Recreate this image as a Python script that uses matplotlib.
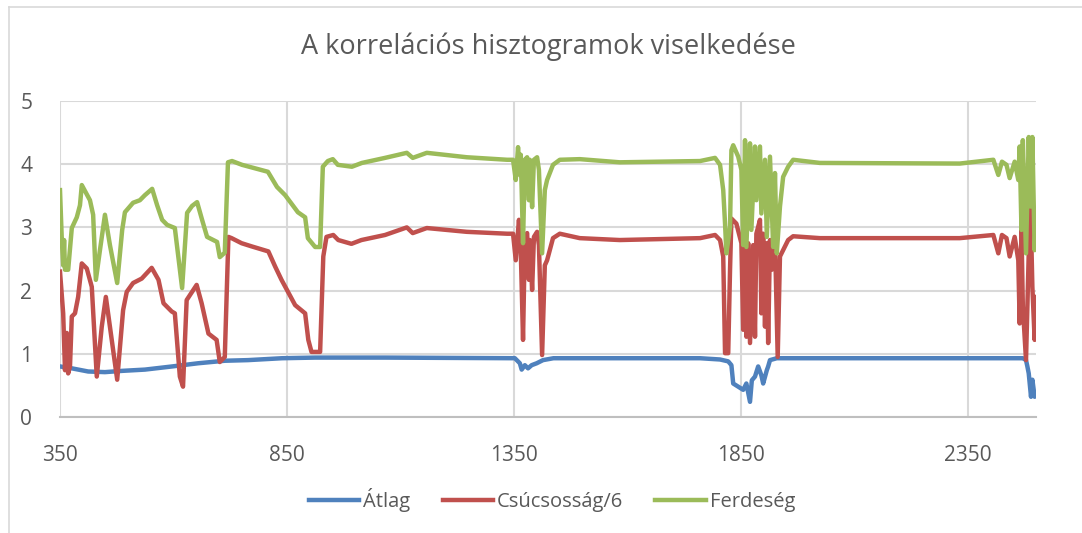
import matplotlib
matplotlib.use("Agg")
import matplotlib.pyplot as plt
from matplotlib.lines import Line2D

# --- DATA ---
title = "A korrelációs hisztogramok viselkedése"
labels = ["Átlag", "Csúcsosság/6", "Ferdeség"]
x_ticks = [350, 850, 1350, 1850, 2350]
y_ticks = [0, 1, 2, 3, 4, 5]

atlag_x = [350, 376, 412, 449, 487, 537, 597, 654, 713, 764,
           839, 912, 1066, 1352, 1363, 1367, 1374, 1381, 1389, 1400,
           1414, 1437, 1760, 1804, 1822, 1829, 1833, 1844, 1855, 1862,
           1870, 1874, 1881, 1888, 1895, 1899, 1907, 1910, 1914, 1929,
           2024, 2471, 2478, 2481, 2484, 2489, 2492, 2497, 2500]
atlag_y = [0.80, 0.77, 0.72, 0.71, 0.73, 0.75, 0.80, 0.85, 0.89, 0.90,
           0.93, 0.94, 0.94, 0.93, 0.85, 0.75, 0.82, 0.77, 0.82, 0.85,
           0.90, 0.93, 0.93, 0.91, 0.88, 0.82, 0.53, 0.48, 0.43, 0.53,
           0.24, 0.58, 0.64, 0.80, 0.66, 0.53, 0.74, 0.80, 0.90, 0.93,
           0.93, 0.93, 0.90, 0.80, 0.69, 0.32, 0.59, 0.32, 0.37]

csucs_x = [350, 357, 361, 365, 368, 372, 376, 383, 390, 398,
           409, 420, 431, 442, 451, 460, 476, 489, 497, 511,
           530, 552, 567, 578, 596, 603, 614, 621, 629, 651,
           662, 677, 695, 702, 713, 721, 728, 750, 772, 809,
           824, 838, 868, 890, 897, 904, 923, 930, 937, 952,
           963, 992, 1014, 1066, 1114, 1127, 1158, 1246, 1335, 1348,
           1354, 1361, 1365, 1370, 1374, 1379, 1383, 1385, 1390, 1394,
           1401, 1405, 1412, 1418, 1423, 1436, 1451, 1495, 1583, 1760,
           1793, 1804, 1811, 1815, 1822, 1826, 1829, 1840, 1851, 1855,
           1859, 1862, 1866, 1870, 1877, 1881, 1884, 1892, 1895, 1899,
           1903, 1907, 1910, 1914, 1918, 1925, 1931, 1936, 1943, 1954,
           1965, 2024, 2332, 2406, 2417, 2425, 2435, 2442, 2453, 2461,
           2464, 2468, 2471, 2478, 2484, 2488, 2492, 2497, 2500]
csucs_y = [2.30, 1.64, 0.74, 1.33, 0.69, 0.80, 1.59, 1.64, 1.90, 2.43,
           2.35, 2.06, 0.64, 1.43, 1.90, 1.43, 0.59, 1.69, 1.98, 2.12,
           2.19, 2.36, 2.17, 1.80, 1.67, 1.64, 0.64, 0.48, 1.85, 2.09,
           1.80, 1.32, 1.22, 0.87, 0.95, 2.85, 2.83, 2.75, 2.70, 2.62,
           2.38, 2.17, 1.77, 1.64, 1.22, 1.03, 1.03, 2.54, 2.85, 2.88,
           2.80, 2.74, 2.80, 2.88, 3.00, 2.91, 2.99, 2.93, 2.90, 2.90,
           2.48, 3.12, 2.64, 1.22, 2.80, 2.91, 2.17, 2.80, 2.01, 2.85,
           2.93, 2.72, 0.98, 2.40, 2.48, 2.83, 2.90, 2.83, 2.80, 2.83,
           2.88, 2.80, 2.54, 1.01, 1.01, 2.33, 3.14, 3.06, 2.75, 1.38,
           2.72, 1.27, 2.75, 1.17, 2.72, 1.27, 2.90, 3.12, 1.64, 2.90,
           1.43, 2.75, 1.17, 2.80, 2.33, 2.80, 0.95, 2.54, 2.64, 2.80,
           2.86, 2.83, 2.83, 2.88, 2.59, 2.88, 2.83, 2.54, 2.85, 2.48,
           1.48, 2.96, 1.75, 0.90, 2.59, 3.33, 2.06, 1.22, 1.90]

ferd_x = [350, 354, 357, 359, 361, 368, 376, 387, 394, 398,
          416, 423, 429, 438, 449, 460, 476, 487, 493, 511,
          526, 537, 553, 564, 575, 586, 603, 619, 630, 641,
          652, 663, 674, 696, 702, 713, 720, 729, 751, 808,
          828, 846, 874, 890, 896, 912, 923, 929, 940, 951,
          962, 993, 1015, 1066, 1114, 1127, 1158, 1246, 1335, 1348,
          1354, 1359, 1363, 1365, 1370, 1374, 1379, 1383, 1385, 1390,
          1394, 1401, 1405, 1412, 1418, 1423, 1436, 1451, 1495, 1583,
          1760, 1793, 1804, 1811, 1815, 1818, 1826, 1829, 1833, 1844,
          1851, 1855, 1859, 1862, 1870, 1873, 1881, 1884, 1892, 1895,
          1903, 1907, 1914, 1921, 1925, 1929, 1936, 1943, 1954, 1965,
          2024, 2332, 2406, 2417, 2425, 2435, 2442, 2453, 2461, 2464,
          2468, 2471, 2478, 2484, 2488, 2492, 2497, 2500]
ferd_y = [3.59, 2.80, 2.40, 2.80, 2.33, 2.33, 2.99, 3.16, 3.35, 3.67,
          3.43, 3.20, 2.17, 2.64, 3.20, 2.72, 2.12, 2.96, 3.24, 3.39,
          3.43, 3.51, 3.61, 3.35, 3.12, 3.04, 2.99, 2.04, 3.23, 3.34,
          3.40, 3.12, 2.85, 2.77, 2.53, 2.60, 4.03, 4.05, 3.99, 3.88,
          3.64, 3.51, 3.24, 3.16, 2.83, 2.69, 2.69, 3.96, 4.05, 4.08,
          3.99, 3.96, 4.02, 4.10, 4.18, 4.10, 4.18, 4.11, 4.07, 4.07,
          3.75, 4.27, 3.83, 4.15, 2.75, 4.07, 4.11, 3.43, 4.07, 3.32,
          4.07, 4.11, 3.91, 2.59, 3.59, 3.75, 3.99, 4.07, 4.08, 4.03,
          4.05, 4.10, 3.99, 3.59, 3.06, 2.59, 3.01, 4.22, 4.30, 4.12,
          3.91, 2.72, 4.38, 2.69, 4.33, 2.96, 4.28, 3.43, 4.28, 3.22,
          4.07, 2.85, 4.12, 2.69, 3.86, 2.59, 3.33, 3.80, 3.96, 4.07,
          4.02, 4.01, 4.07, 3.83, 4.04, 3.99, 3.78, 4.04, 3.75, 4.28,
          2.96, 4.38, 2.59, 4.43, 3.33, 4.43, 2.64, 3.17]

colors = ["#4F81BD", "#C0504D", "#9BBB59"]
text_grey = "#595959"

plt.rcParams['font.family'] = ['Open Sans', 'DejaVu Sans']

W, H = 1082, 533
fig = plt.figure(figsize=(W / 100, H / 100), dpi=100)
ax = fig.add_axes([60 / W, 1 - 417 / H, (1036 - 60) / W, (417 - 101) / H])

series = [(atlag_x, atlag_y), (csucs_x, csucs_y), (ferd_x, ferd_y)]
for (xs, ys), c, lab in zip(series, colors, labels):
    ax.plot(xs, ys, color=c, lw=3.2, label=lab, solid_joinstyle='round')

ax.set_xlim(350, 2500)
ax.set_ylim(0, 5)
ax.set_xticks(x_ticks)
ax.set_yticks(y_ticks)
ax.tick_params(length=0, labelsize=15, labelcolor=text_grey)
ax.tick_params(axis='x', pad=20)
ax.tick_params(axis='y', pad=20)
ax.grid(True, color="#D9D9D9", lw=1.5)
ax.set_axisbelow(True)
for s in ["top", "right", "left"]:
    ax.spines[s].set_visible(False)
ax.spines["bottom"].set_color("#BFBFBF")
ax.spines["bottom"].set_linewidth(1.5)

fig.text(548 / W, 1 - 47 / H, title, ha='center', va='center',
         fontsize=19.5, color=text_grey)

fig.legend(loc='center', bbox_to_anchor=(552 / W, 1 - 500 / H), ncol=3,
           frameon=False, fontsize=14.5, labelcolor=text_grey,
           handlelength=2.5, handletextpad=0.2, columnspacing=1.6)

# outer chart border (left and top visible in the reference)
fig.add_artist(Line2D([9 / W, 9 / W], [0, 1 - 7 / H], color="#D9D9D9", lw=1.2))
fig.add_artist(Line2D([9 / W, 1], [1 - 7 / H, 1 - 7 / H], color="#D9D9D9", lw=1.2))

fig.savefig("out.png", dpi=100)
